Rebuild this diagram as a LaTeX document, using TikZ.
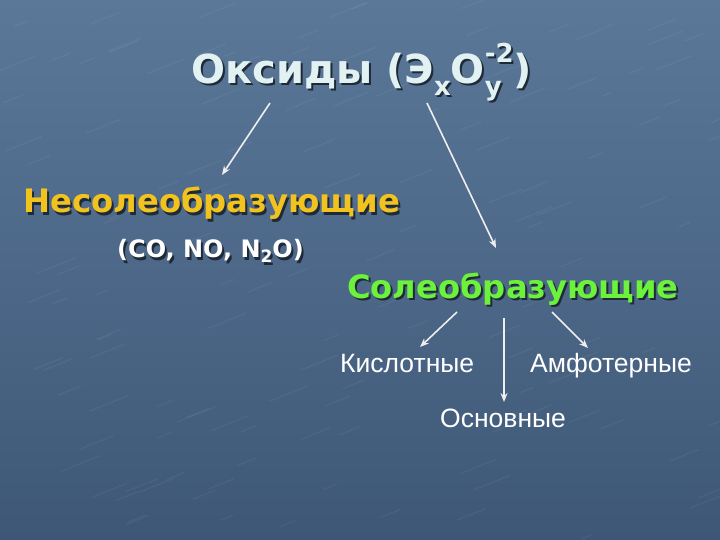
\documentclass[tikz,border=0pt]{standalone}
\usepackage{fontspec}
\setmainfont{DejaVu Sans}
\newfontfamily\arialf{Liberation Sans}
\usetikzlibrary{arrows.meta}
\definecolor{bgtop}{HTML}{5B7898}
\definecolor{bgbot}{HTML}{3E5777}
\definecolor{titlecol}{HTML}{E2F2F2}
\definecolor{goldcol}{HTML}{F2C21E}
\definecolor{greencol}{HTML}{6CF23A}
\definecolor{arrowcol}{HTML}{EEEEEE}
\definecolor{shadowcol}{HTML}{1E2A38}
\tikzset{
  conn/.style={draw=arrowcol, line width=1.6pt, -{Stealth[length=9pt,width=7pt]}},
  lbl/.style={inner sep=0pt, anchor=base west},
  plain/.style={lbl, text=white, font=\arialf\fontsize{26.5}{30}\selectfont},
}
\newcommand{\shadowtext}[6]{% x, y, color, font, text, name
  \node[lbl, text=shadowcol, font=#4] at (#1+2,#2+2) {#5};
  \node[lbl, text=#3, font=#4] (#6) at (#1,#2) {#5};
}
\newcommand{\smallidx}[2]{\raisebox{#1}{\fontsize{26}{28}\selectfont #2}}
\begin{document}
\begin{tikzpicture}[x=1pt,y=-1pt]
\useasboundingbox (0,0) rectangle (720,540);
\shade[top color=bgtop, bottom color=bgbot] (0,0) rectangle (720,540);
% texture hints
\pgfmathsetseed{7}
\foreach \i in {1,...,140}{
  \pgfmathsetmacro{\xa}{rnd*720}
  \pgfmathsetmacro{\ya}{rnd*540}
  \pgfmathsetmacro{\dx}{10+rnd*30}
  \draw[white, opacity=0.05, line width=1.2pt] (\xa,\ya) -- ++(\dx,-\dx*0.4);
}
% Title
\shadowtext{191}{84}{titlecol}{\fontsize{40}{46}\bfseries}{Оксиды (Э\smallidx{-12pt}{x}O\rlap{\smallidx{-12pt}{y}}\smallidx{21pt}{-2})}{title}
% Non salt
\shadowtext{23}{213}{goldcol}{\fontsize{32.3}{36}\bfseries}{Несолеобразующие}{nonsalt}
\shadowtext{117}{258}{white}{\fontsize{24}{28}\bfseries}{(CO, NO, N\raisebox{-5pt}{\fontsize{17}{19}\selectfont 2}O)}{ex}
% Salt
\shadowtext{347}{298}{greencol}{\fontsize{32.2}{36}\bfseries}{Солеобразующие}{salt}
\node[plain] (acid) at (340,372) {Кислотные};
\node[plain] (amph) at (530,372) {Амфотерные};
\node[plain] (base) at (440,427) {Основные};
% arrows
\coordinate (a1s) at (270,103); \coordinate (a1e) at (222,175);
\coordinate (a2s) at (427,103); \coordinate (a2e) at (496,248);
\coordinate (a3s) at (457,312); \coordinate (a3e) at (420,347);
\coordinate (a4s) at (504,318); \coordinate (a4e) at (504,402);
\coordinate (a5s) at (552,312); \coordinate (a5e) at (588,348);
\draw[conn] (a1s) -- (a1e);
\draw[conn] (a2s) -- (a2e);
\draw[conn] (a3s) -- (a3e);
\draw[conn] (a4s) -- (a4e);
\draw[conn] (a5s) -- (a5e);
\end{tikzpicture}
\end{document}
